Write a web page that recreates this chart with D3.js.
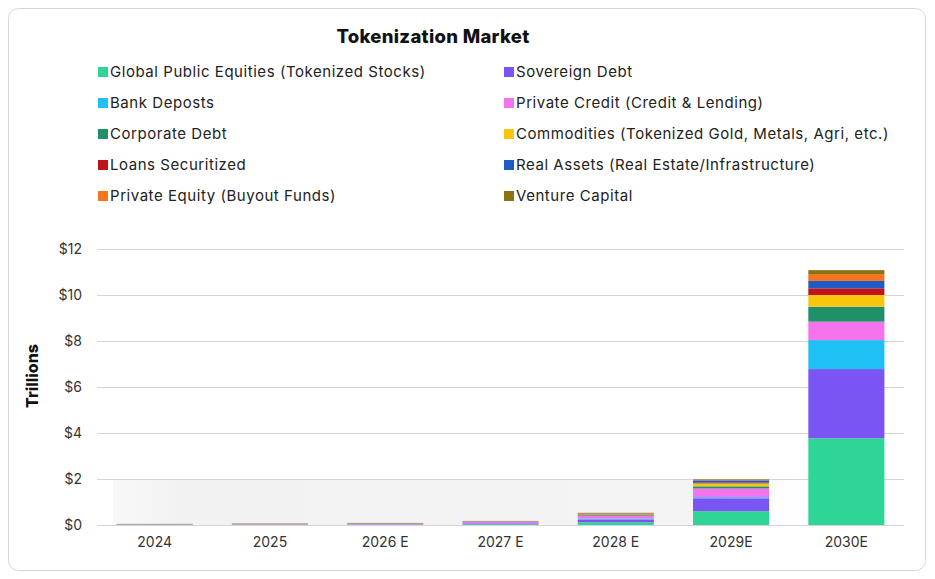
<!DOCTYPE html>
<html>
<head>
<meta charset="utf-8">
<script src="https://cdn.jsdelivr.net/npm/d3@7"></script>
<style>
  html, body { margin: 0; padding: 0; background: #fff; }
  svg { display: block; font-family: Inter, "Noto Sans", sans-serif; }
</style>
</head>
<body>
<svg id="chart" width="935" height="579"></svg>
<script>
const categories = ["2024", "2025", "2026 E", "2027 E", "2028 E", "2029E", "2030E"];
const seriesNames = [
  "Global Public Equities (Tokenized Stocks)",
  "Sovereign Debt",
  "Bank Deposts",
  "Private Credit (Credit & Lending)",
  "Corporate Debt",
  "Commodities (Tokenized Gold, Metals, Agri, etc.)",
  "Loans Securitized",
  "Real Assets (Real Estate/Infrastructure)",
  "Private Equity (Buyout Funds)",
  "Venture Capital"
];
const seriesColors = ["#2fd597", "#7a55f3", "#1fc1f4", "#f574ee", "#1f9068", "#f8c60f", "#c0121c", "#1f5bc4", "#f4751d", "#8a7114"];
// values in trillions, per category
const globalEquities = [0.005, 0.008, 0.012, 0.03, 0.12, 0.60, 3.77];
const sovereignDebt  = [0.005, 0.008, 0.015, 0.04, 0.12, 0.56, 3.01];
const bankDeposits   = [0.003, 0.004, 0.006, 0.01, 0.04, 0.05, 1.26];
const privateCredit  = [0.010, 0.012, 0.016, 0.06, 0.12, 0.38, 0.80];
const corporateDebt  = [0.003, 0.004, 0.006, 0.01, 0.03, 0.09, 0.65];
const commodities    = [0.004, 0.005, 0.006, 0.006, 0.03, 0.13, 0.51];
const loansSecuritized = [0.004, 0.005, 0.006, 0.005, 0.01, 0.03, 0.29];
const realAssets     = [0.006, 0.008, 0.010, 0.006, 0.02, 0.10, 0.32];
const privateEquity  = [0.004, 0.006, 0.007, 0.005, 0.02, 0.03, 0.30];
const ventureCapital = [0.004, 0.006, 0.006, 0.005, 0.02, 0.02, 0.17];
const yTicks = [0, 2, 4, 6, 8, 10, 12];
const yTickLabels = ["$0", "$2", "$4", "$6", "$8", "$10", "$12"];

const seriesValues = [globalEquities, sovereignDebt, bankDeposits, privateCredit, corporateDebt,
  commodities, loansSecuritized, realAssets, privateEquity, ventureCapital];

const rows = categories.map((c, i) => {
  const r = { cat: c };
  seriesNames.forEach((s, k) => r[s] = seriesValues[k][i]);
  return r;
});

const svg = d3.select("#chart");

// card
svg.append("rect").attr("x", 8.5).attr("y", 8.5).attr("width", 917).attr("height", 562)
  .attr("rx", 10).attr("fill", "#fff").attr("stroke", "#d6d6d6").attr("stroke-width", 1);

const margin = { left: 97, right: 31, top: 249, bottom: 54 };
const W = 935, H = 579;
const x = d3.scaleBand().domain(categories).range([margin.left, W - margin.right]).paddingInner(0.34).paddingOuter(0.17);
const y = d3.scaleLinear().domain([0, 12]).range([H - margin.bottom, margin.top]);

// faint shaded band
const defs = svg.append("defs");
const grad = defs.append("linearGradient").attr("id", "band").attr("x1", "0").attr("x2", "1");
grad.append("stop").attr("offset", "0").attr("stop-color", "#f2f2f2").attr("stop-opacity", 0.5);
grad.append("stop").attr("offset", "0.1").attr("stop-color", "#f2f2f2").attr("stop-opacity", 1);
grad.append("stop").attr("offset", "0.85").attr("stop-color", "#f4f4f4").attr("stop-opacity", 1);
grad.append("stop").attr("offset", "1").attr("stop-color", "#f6f6f6").attr("stop-opacity", 0);
svg.append("rect").attr("x", 113).attr("y", y(2)).attr("width", 690).attr("height", y(0) - y(2))
  .attr("fill", "url(#band)");

// grid
svg.append("g").selectAll("line").data(yTicks).join("line")
  .attr("x1", margin.left).attr("x2", W - margin.right)
  .attr("y1", d => Math.round(y(d)) + 0.5).attr("y2", d => Math.round(y(d)) + 0.5)
  .attr("stroke", "#d4d4d4").attr("stroke-width", 1);

// y axis labels
const yAxis = d3.axisLeft(y).tickValues(yTicks).tickFormat((d, i) => yTickLabels[i]).tickSize(0).tickPadding(15);
const gy = svg.append("g").attr("transform", `translate(${margin.left},0)`).call(yAxis);
gy.select(".domain").remove();
gy.selectAll("text").attr("font-size", 14).attr("fill", "#333").attr("font-family", "Inter, sans-serif");

// x axis labels
const xAxis = d3.axisBottom(x).tickSize(0).tickPadding(12);
const gx = svg.append("g").attr("transform", `translate(0,${y(0)})`).call(xAxis);
gx.select(".domain").remove();
gx.selectAll("text").attr("font-size", 14).attr("fill", "#333").attr("font-family", "Inter, sans-serif");

// stacked bars
const stack = d3.stack().keys(seriesNames)(rows);
const color = d3.scaleOrdinal().domain(seriesNames).range(seriesColors);
svg.append("g").selectAll("g").data(stack).join("g")
  .attr("fill", d => color(d.key))
  .selectAll("rect").data(d => d).join("rect")
  .attr("x", d => x(d.data.cat))
  .attr("width", x.bandwidth())
  .attr("y", d => y(d[1]))
  .attr("height", d => Math.max(0, y(d[0]) - y(d[1])));

// title
svg.append("text").attr("x", 433).attr("y", 43).attr("text-anchor", "middle")
  .attr("font-size", 18.5).attr("font-weight", 800).attr("fill", "#111").attr("letter-spacing", 0.3)
  .text("Tokenization Market");

// legend
const lg = svg.append("g");
seriesNames.forEach((s, i) => {
  const col = i % 2, row = Math.floor(i / 2);
  const lx = col === 0 ? 98 : 504;
  const ly = 72 + row * 31;
  lg.append("rect").attr("x", lx).attr("y", ly - 5).attr("width", 10).attr("height", 10).attr("fill", seriesColors[i]);
  lg.append("text").attr("x", lx + 12).attr("y", ly).attr("dy", "0.35em")
    .attr("font-size", 15).attr("fill", "#222").attr("letter-spacing", 0.55).text(s);
});

// y title
svg.append("text").attr("transform", `translate(38,376) rotate(-90)`).attr("text-anchor", "middle")
  .attr("font-size", 16).attr("font-weight", 800).attr("fill", "#111").text("Trillions");
</script>
</body>
</html>
